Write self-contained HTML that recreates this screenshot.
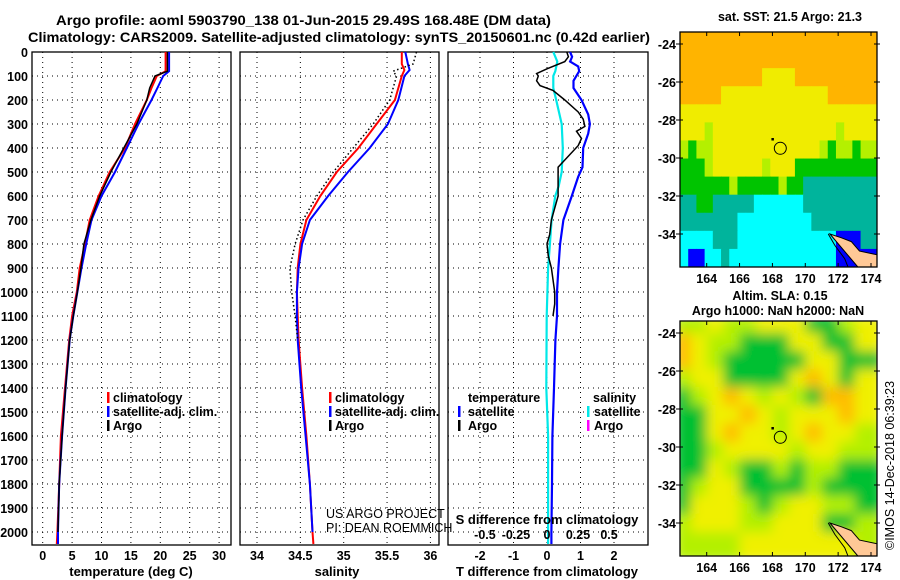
<!DOCTYPE html>
<html><head><meta charset="utf-8">
<style>
html,body{margin:0;padding:0;background:#fff;}
svg{display:block;font-family:"Liberation Sans",sans-serif;}
.b{font-weight:bold;font-size:12.5px;fill:#000;}
.t{font-weight:bold;font-size:14px;fill:#000;}
</style></head>
<body>
<svg id="fig" width="900" height="580" viewBox="0 0 900 580">
<text class="t" x="56" y="25" textLength="495" lengthAdjust="spacingAndGlyphs">Argo profile: aoml 5903790_138 01-Jun-2015 29.49S 168.48E (DM data)</text>
<text class="t" x="28" y="42" textLength="622" lengthAdjust="spacingAndGlyphs">Climatology: CARS2009. Satellite-adjusted climatology: synTS_20150601.nc (0.42d earlier)</text>
<g id="g"></g>
</svg>
<script>
// ---- data ----
const tDepth = [0,50,80,100,150,200,300,400,500,600,700,800,900,1000,1100,1200,1400,1600,1800,2000,2050];
const tClim  = [20.9,20.9,20.9,19.4,18.5,17.7,15.7,14.0,11.4,9.5,8.0,7.2,6.3,5.8,5.0,4.5,3.8,3.1,2.8,2.5,2.4];
const tSat   = [21.5,21.5,21.5,20.5,19.5,18.5,16.3,14.3,12.3,10.0,8.3,7.4,6.6,5.9,5.2,4.6,3.9,3.3,2.8,2.6,2.6];
const tArgo  = [21.2,21.2,21.2,19.1,18.2,17.7,16.0,13.8,11.6,9.7,8.2,7.0,6.5,5.9,5.2,4.6,3.9,3.3,2.8,2.6];
const sDepth = [0,50,75,100,200,300,400,500,600,700,800,900,1000,1100,1200,1400,1600,1800,2000,2050];
const sClim  = [35.67,35.67,35.70,35.67,35.59,35.38,35.17,34.92,34.73,34.57,34.50,34.47,34.46,34.47,34.48,34.52,34.57,34.61,34.64,34.65];
const sSat   = [35.71,35.74,35.76,35.70,35.63,35.51,35.30,35.05,34.82,34.61,34.52,34.48,34.46,34.46,34.47,34.51,34.56,34.61,34.64];
const sArgoDepth = [0,50,80,100,200,300,400,500,600,700,800,900,1000,1100,1200];
const sArgo  = [35.84,35.80,35.57,35.61,35.53,35.34,35.11,34.88,34.69,34.53,34.44,34.38,34.40,34.44,34.47];
const dDepth = [0,20,40,60,80,120,150,200,260,300,340,400,480,520,600,700,800,900,1000,1100,1200,1400,1600,1800,2000,2050];
const dTSat  = [0.69,0.75,0.69,0.93,0.96,0.79,0.79,1.03,1.23,1.28,1.23,1.08,1.06,0.93,0.74,0.49,0.39,0.34,0.30,0.30,0.25,0.21,0.16,0.15,0.13,0.13];
const aDepth = [0,20,40,70,90,100,120,140,160,200,250,280,310,330,360,390,450,480,600,700,760,800,850,900,1000,1050,1100];
const dTArgo = [0.59,0.64,0.53,0.0,-0.31,-0.26,-0.31,-0.21,0.18,0.53,0.93,1.08,1.13,0.88,1.03,0.93,0.53,0.33,0.33,0.13,0.08,0.0,0.04,0.13,0.23,0.23,0.18];
const cDepth = [0,40,80,100,150,200,300,400,500,560,600,700,800,900,1000,1100,1400,1600,2000,2050];
const dSSat  = [0.048,0.078,0.063,0.048,0.048,0.07,0.111,0.12,0.111,0.088,0.063,0.035,0.022,0.008,0.003,-0.002,-0.005,0.008,0.008,0.008];
const depthTicks = [0,100,200,300,400,500,600,700,800,900,1000,1100,1200,1300,1400,1500,1600,1700,1800,1900,2000];
const tTicks = [0,5,10,15,20,25,30];
const sTicks = [34,34.5,35,35.5,36];
const sTickLabels = ["34","34.5","35","35.5","36"];
const dTTicks = [-2,-1,0,1,2];
const dSTicks = [-0.5,-0.25,0,0.25,0.5];
const dSTickLabels = ["-0.5","-0.25","0","0.25","0.5"];
const latTicks = [-24,-26,-28,-30,-32,-34];
const lonTicks = [164,166,168,170,172,174];
const sstGrid = [
"OOOOOOOOOOOOOOOOOOOOOOOO","OOOOOOOOOOOOOOOOOOOOOOOO","OOOOOOOOOOYYYYOOOOOOOOOO","OOOOOYYYYYYYYYYYYYOOOOOO",
"YYYYYYYYYYYYYYYYYYYYYYYY","YYYLYYYYYYYYYYYYYYYLYYYY","LGLLYYYYYYYYYYYYYLGLLGLL","GGGLYYYYYYLYYYGGGGGGGGGG",
"GGGGGGLGGGGGLGGTTTTTTTTT","TTGGTTTTTCCCCCCTTTTTTTTT","TTTTTTTCCCCCCCCCTTTTTTTT","CCCCTTTCCCCCCCCCCCCBBBTT","CBBCCTCCCCCCCCCCCCCBBBBB"];
const slaGrid = [
"LLYLLYYYGGLY","OYLLGGGYYGGY","OYLGGGGGYYGG","LYYGGGGYOYGY","GLYOYLYLGOOY","GGYYOYLYYYOY",
"GGYOYYLYOYYL","GGLYYYYLYYLL","GGYLGGLGLLGG","GLYYGGGGLGGG","GYYYLGLYYLLG","LYYYLLYYYGGL","LLLLYYYYYYYL"];
const argoLon = 168.48, argoLat = -29.49;

// ---- helpers ----
const NS="http://www.w3.org/2000/svg";
const G=document.getElementById('g');
function mk(tag,attrs,parent){const e=document.createElementNS(NS,tag);for(const k in attrs)e.setAttribute(k,attrs[k]);(parent||G).appendChild(e);return e;}
const yD = d => 52 + d*0.24;
const xT = v => 42.7 + v*5.88;
const xS = v => 257 + (v-34)*86.7;
const xDT = v => 547 + v*33.5;
const xDS = v => 547 + v*132;
const TOP=52, BOT=545;
function panel(x0,x1,name){
  const r=mk('rect',{x:x0,y:TOP,width:x1-x0,height:BOT-TOP,fill:'none',stroke:'#000','stroke-width':1.3});
  
  
  depthTicks.forEach(d=>{
    const l=mk('line',{x1:x0,x2:x1,y1:yD(d),y2:yD(d),stroke:'#000','stroke-width':1,'stroke-dasharray':'1,4'});
    
    
  });
}
function vgrid(xs,name){
  xs.forEach(x=>{
    const l=mk('line',{x1:x,x2:x,y1:TOP,y2:BOT,stroke:'#000','stroke-width':1,'stroke-dasharray':'1,4'});
    
    
  });
}
function line(xs,ds,xf,color,w,name,dash){
  const pts=xs.map((v,i)=>xf(v).toFixed(1)+','+yD(ds[i]).toFixed(1)).join(' ');
  const a={points:pts,fill:'none',stroke:color,'stroke-width':w};
  if(dash)a['stroke-dasharray']=dash;
  const p=mk('polyline',a);
  
  
}
function txt(x,y,s,cls,anchor,name,extra){
  const a={x:x,y:y,'class':cls||'b'};
  if(anchor)a['text-anchor']=anchor;
  if(extra)for(const k in extra)a[k]=extra[k];
  const t=mk('text',a);t.textContent=s;
  
  
  return t;
}
function legendMark(x,y,color){
  const r=mk('rect',{x:x,y:y-10,width:2.5,height:11,fill:color});
  
  
}

// ---- depth axis labels ----
depthTicks.forEach(d=>txt(28,yD(d)+5,String(d),'b','end','depth-tick-label'));

// ---- temperature panel ----
panel(32,231,'temperature-panel');
vgrid(tTicks.map(xT),'temperature-gridline');
line(tClim,tDepth,xT,'#ff0000',2,'temperature-climatology-line');
line(tSat,tDepth.slice(0,tSat.length),xT,'#0000ff',2,'temperature-satellite-line');
line(tArgo,tDepth.slice(0,tArgo.length),xT,'#000',1.5,'temperature-argo-line');
tTicks.forEach(v=>txt(xT(v),560,String(v),'b','middle','temperature-tick-label'));
txt(131,576,'temperature (deg C)','b','middle','temperature-axis-title',{style:'font-size:13px'});
legendMark(107,402,'#ff0000');txt(113,402,'climatology','b',null,'legend-climatology');
legendMark(107,416,'#0000ff');txt(113,416,'satellite-adj. clim.','b',null,'legend-satellite-adj');
legendMark(107,430,'#000');txt(113,430,'Argo','b',null,'legend-argo');

// ---- salinity panel ----
panel(240,439,'salinity-panel');
vgrid(sTicks.map(xS),'salinity-gridline');
line(sClim,sDepth,xS,'#ff0000',2,'salinity-climatology-line');
line(sSat,sDepth.slice(0,sSat.length),xS,'#0000ff',2,'salinity-satellite-line');
line(sArgo,sArgoDepth,xS,'#000',1.5,'salinity-argo-line','1.5,2.5');
sTicks.forEach((v,i)=>txt(xS(v),560,sTickLabels[i],'b','middle','salinity-tick-label'));
txt(337,576,'salinity','b','middle','salinity-axis-title',{style:'font-size:13px'});
legendMark(329,402,'#ff0000');txt(335,402,'climatology','b',null,'legend-climatology');
legendMark(329,416,'#0000ff');txt(335,416,'satellite-adj. clim.','b',null,'legend-satellite-adj');
legendMark(329,430,'#000');txt(335,430,'Argo','b',null,'legend-argo');
txt(326,518,'US ARGO PROJECT','b',null,'credit-project',{style:'font-weight:normal'});
txt(326,532,'PI: DEAN ROEMMICH','b',null,'credit-pi',{style:'font-weight:normal'});

// ---- difference panel ----
panel(448,648,'difference-panel');
vgrid(dTTicks.map(xDT),'difference-gridline');
line(dSSat,cDepth,xDS,'#00e8e8',2.2,'salinity-diff-satellite-line');
line(dTSat,dDepth,xDT,'#0000ff',2.2,'temperature-diff-satellite-line');
line(dTArgo,aDepth,xDT,'#000',1.5,'temperature-diff-argo-line');
txt(468,402,'temperature','b',null,'legend-temperature-heading');
legendMark(458,416,'#0000ff');txt(468,416,'satellite','b',null,'legend-t-satellite');
legendMark(458,430,'#000');txt(468,430,'Argo','b',null,'legend-t-argo');
txt(593,402,'salinity','b',null,'legend-salinity-heading');
legendMark(587,416,'#00e8e8');txt(594,416,'satellite','b',null,'legend-s-satellite');
legendMark(587,430,'#ff00ff');txt(594,430,'Argo','b',null,'legend-s-argo');
txt(547,524,'S difference from climatology','b','middle','s-diff-axis-title',{style:'font-size:13px'});
dSTicks.forEach((v,i)=>txt(xDS(v)*0.94+547*0.06,539,dSTickLabels[i],'b','middle','s-diff-tick-label'));
dTTicks.forEach(v=>txt(xDT(v),560,String(v),'b','middle','t-diff-tick-label'));
txt(547,576,'T difference from climatology','b','middle','t-diff-axis-title',{style:'font-size:13px'});

// ---- maps ----
const COL={O:'#ffb400',Y:'#f0ec00',L:'#b4f000',G:'#00c400',T:'#00b49c',C:'#00ffff',B:'#0000ff',R:'#ff0000'};
const COL2={O:'#ffbc00',Y:'#f0f000',L:'#b4f000',G:'#00c030'};
const MX0=680, MX1=877;
const xLon = l => 706.7 + (l-164)*16.43;
function drawMap(top,grid,cols,name,blur){
  const bottom=top+235;
  const yLat = la => top+12 + (-24-la)*19;
  const g=mk('g',{});
  
  
  const clip=mk('clipPath',{id:'c'+name});
  mk('rect',{x:MX0,y:top,width:MX1-MX0,height:bottom-top},clip);
  const inner=mk('g',{'clip-path':'url(#c'+name+')'},g);
  const ig=blur?mk('g',{filter:'url(#bl)'},inner):inner;
  const nr=grid.length,nc=grid[0].length;
  const cw=(MX1-MX0)/nc, ch=(bottom-top)/nr;
  grid.forEach((row,r)=>{[...row].forEach((c,k)=>{
    const cell=mk('rect',{x:MX0+k*cw-(blur?6:0),y:top+r*ch-(blur?6:0),width:cw+(blur?12:0.5),height:ch+(blur?12:0.5),fill:cols[c]},ig);
    
    
  });});
  const coast=mk('path',{d:`M${xLon(171.5)},${yLat(-34.0)} L${xLon(172.2)},${yLat(-34.2)} L${xLon(172.8)},${yLat(-34.4)} L${xLon(173.3)},${yLat(-34.9)} L${xLon(174.4)},${yLat(-35.1)} L${xLon(174.4)},${bottom} L${xLon(173.2)},${bottom} Z`,fill:'#ffc896',stroke:'#000','stroke-width':1},inner);
  
  
  const c2=mk('polyline',{points:`${xLon(171.4)},${yLat(-34.0)} ${xLon(171.8)},${yLat(-34.6)} ${xLon(172.4)},${yLat(-35.3)} ${xLon(172.6)},${bottom}`,fill:'none',stroke:'#000','stroke-width':1},inner);
  
  
  const circ=mk('circle',{cx:xLon(argoLon),cy:yLat(argoLat),r:6,fill:'none',stroke:'#000','stroke-width':1},g);
  
  
  const dot=mk('rect',{x:xLon(168)-1,y:yLat(-29.0)-1,width:2.5,height:2.5,fill:'#000'},g);
  
  
  const fr=mk('rect',{x:MX0,y:top,width:MX1-MX0,height:bottom-top,fill:'none',stroke:'#000','stroke-width':1.3},g);
  
  
  latTicks.forEach(la=>{
    mk('line',{x1:MX0-4,x2:MX0+3,y1:yLat(la),y2:yLat(la),stroke:'#000'},g);
    mk('line',{x1:MX1-3,x2:MX1+3,y1:yLat(la),y2:yLat(la),stroke:'#000'},g);
    txt(676,yLat(la)+5,String(la),'b','end','latitude-tick-label');
  });
  lonTicks.forEach(lo=>{
    mk('line',{x1:xLon(lo),x2:xLon(lo),y1:top,y2:top+4,stroke:'#000'},g);
    mk('line',{x1:xLon(lo),x2:xLon(lo),y1:bottom,y2:bottom-4,stroke:'#000'},g);
    txt(xLon(lo),bottom+16,String(lo),'b','middle','longitude-tick-label');
  });
}
const defs=mk('defs',{});
const f=mk('filter',{id:'bl',x:'-5%',y:'-5%',width:'110%',height:'110%'},defs);
mk('feGaussianBlur',{stdDeviation:6},f);
txt(790,21,'sat. SST: 21.5 Argo: 21.3','b','middle','sst-map-title');
drawMap(32,sstGrid,COL,'sst-map',false);
txt(780,300,'Altim. SLA: 0.15','b','middle','sla-map-title');
txt(778,315,'Argo h1000: NaN h2000: NaN','b','middle','sla-map-subtitle');
drawMap(321,slaGrid,COL2,'sla-map',true);
txt(0,0,'©IMOS 14-Dec-2018 06:39:23','b',null,'timestamp-credit',{transform:'translate(894,550) rotate(-90)',style:'font-weight:normal'});
</script>
</body></html>
